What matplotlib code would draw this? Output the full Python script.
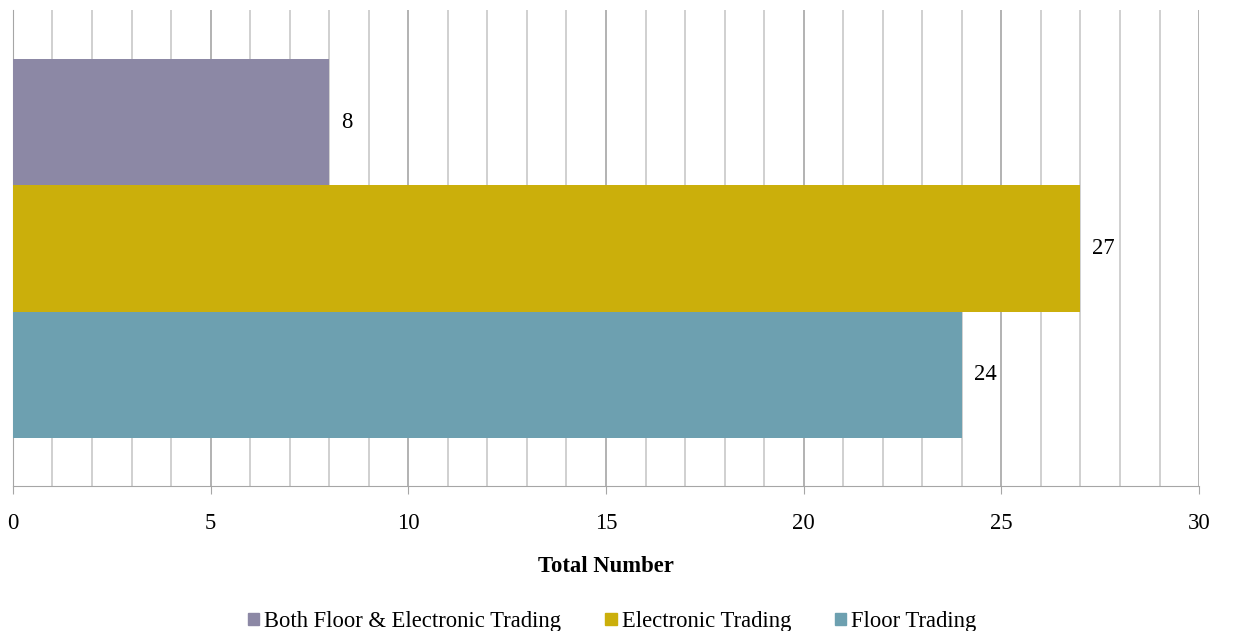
import matplotlib.pyplot as plt
from matplotlib.ticker import MultipleLocator
from matplotlib.patches import Patch

categories = ["Both Floor & Electronic Trading", "Electronic Trading", "Floor Trading"]
values = [8, 27, 24]
colors = ["#8c88a5", "#cbaf0b", "#6da0b0"]

plt.rcParams['font.family'] = ['Liberation Serif', 'DejaVu Serif']
fs = 16.3

fig = plt.figure(figsize=(12.33, 6.31), dpi=100)
ax = fig.add_axes([0.0105, 0.23, 0.962, 0.754])

ypos = [2, 1, 0]
ax.barh(ypos, values, height=1.0, color=colors, zorder=3)
for y, v in zip(ypos, values):
    ax.text(v + 0.3, y, str(v), va='center', ha='left', fontsize=fs)

ax.set_xlim(0, 30)
ax.set_ylim(-0.88, 2.887)
ax.xaxis.set_major_locator(MultipleLocator(5))
ax.xaxis.set_minor_locator(MultipleLocator(1))
ax.grid(axis='x', which='major', color='#a6a6a6', lw=1.2, zorder=0)
ax.grid(axis='x', which='minor', color='#c8c8c8', lw=1.2, zorder=0)
ax.set_yticks([])
for s in ['top', 'right']:
    ax.spines[s].set_visible(False)
ax.spines['left'].set_color('#a6a6a6')
ax.spines['bottom'].set_color('#a6a6a6')
ax.tick_params(axis='x', which='major', length=6, color='#a6a6a6', labelsize=fs, pad=13.5)
ax.tick_params(axis='x', which='minor', length=0)
ax.set_xlabel("Total Number", fontsize=fs, fontweight='bold', labelpad=16)

handles = [Patch(color=c) for c in colors]
fig.legend(handles, categories, loc='center', bbox_to_anchor=(0.4965, 0.015), ncol=3,
           frameon=False, fontsize=fs, handlelength=0.5, handleheight=0.5,
           handletextpad=0.22, columnspacing=1.95, borderpad=0)

fig.savefig("out.png", dpi=100)
